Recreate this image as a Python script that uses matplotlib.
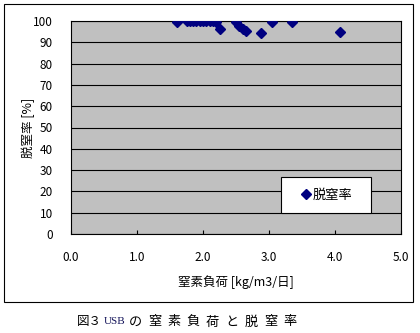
import matplotlib
matplotlib.use('Agg')
import matplotlib.pyplot as plt
from matplotlib.patches import Rectangle

plt.rcParams['font.family'] = ['Noto Sans CJK JP', 'DejaVu Sans']

# 窒素負荷 [kg/m3/日] と 脱窒率 [%]
load = [1.6, 1.75, 1.8, 1.85, 1.9, 1.95, 2.0, 2.05, 2.1, 2.15, 2.2, 2.25,
        2.5, 2.55, 2.6, 2.65, 2.88, 3.05, 3.35, 4.08]
rate = [99.5, 100, 100, 99.8, 100, 100, 100, 100, 99.8, 100, 99.5, 96.2,
        99.5, 97.6, 96.2, 95.2, 94.3, 99.7, 99.7, 94.8]
series_name = '脱窒率'
xticks = [0, 1, 2, 3, 4, 5]
yticks = list(range(0, 101, 10))
caption = '図３　USB の窒素負荷と脱窒率'

W, H = 420, 333
fig = plt.figure(figsize=(W / 100, H / 100), dpi=100)

# 外枠
fig.patches.append(Rectangle((4 / W, 1 - 301.7 / H), 408.7 / W, 297.7 / H,
                             transform=fig.transFigure, fill=False,
                             edgecolor='black', linewidth=0.8))

ax = fig.add_axes([71 / W, 1 - 234 / H, 330 / W, 213 / H])
ax.set_facecolor('#C0C0C0')
ax.plot(load, rate, linestyle='none', marker='D', markersize=5.4,
        color='#000080', label=series_name, zorder=3)

ax.set_xlim(0, 5)
ax.set_ylim(0, 100)
ax.set_xticks(xticks)
ax.set_xticklabels(['%.1f' % v for v in xticks])
ax.set_yticks(yticks)
ax.yaxis.grid(True, color='black', linewidth=0.8)
ax.tick_params(axis='x', direction='in', length=3, width=0.8, pad=12, labelsize=8.5)
ax.tick_params(axis='y', length=0, pad=13, labelsize=8.5)
for s in ax.spines.values():
    s.set_linewidth(0.8)

ax.set_xlabel('窒素負荷 [kg/m3/日]', fontsize=9)
ax.xaxis.set_label_coords(0.5, -0.195)
ax.set_ylabel('脱窒率 [%]', fontsize=9)
ax.yaxis.set_label_coords(-0.11, 0.5)

# 凡例
leg = ax.legend(loc='center', bbox_to_anchor=(0.636, 0.0986, 0.273, 0.169),
                mode='expand', fontsize=9.5, frameon=True, fancybox=False,
                shadow=False, handlelength=1.98, handletextpad=-0.46,
                borderpad=0.9, borderaxespad=0)
leg.get_frame().set_edgecolor('black')
leg.get_frame().set_linewidth(0.8)
leg.get_frame().set_facecolor('white')
leg.get_frame().set_alpha(1)

# 図のキャプション
head, rest = caption.split('USB ')
fig.text(77 / W, 1 - 322 / H, head.strip(), fontsize=9, va='center', ha='left')
fig.text(115 / W, 1 - 322 / H, 'USB', fontsize=8, va='center', ha='center',
         family='Liberation Serif', color='#14145a')
for i, ch in enumerate(rest):
    fig.text((135 + i * 19.4) / W, 1 - 322 / H, ch, fontsize=9.5,
             va='center', ha='center')

fig.savefig('out.png', dpi=100)
